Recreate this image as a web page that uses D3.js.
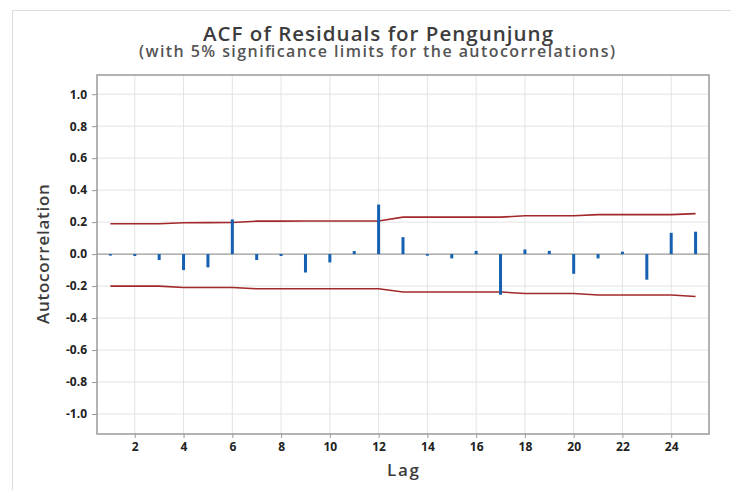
<!DOCTYPE html>
<html>
<head>
<meta charset="utf-8">
<title>ACF of Residuals</title>
<script src="https://cdn.jsdelivr.net/npm/d3@7"></script>
<style>
  body { margin: 0; background: #fff; }
  text { font-family: "Open Sans", "Noto Sans", sans-serif; }
  .tick text { font-size: 12px; font-weight: 700; fill: #222; }
</style>
</head>
<body>
<script>
  // lags and residual autocorrelations
  var lags = d3.range(1, 26);
  var acf = [-0.005, -0.012, -0.037, -0.100, -0.083, 0.217, -0.037, -0.012, -0.115, -0.052,
             0.019, 0.310, 0.106, -0.010, -0.027, 0.020, -0.254, 0.029, 0.020, -0.123,
             -0.027, 0.015, -0.160, 0.133, 0.140];
  // 5% significance limits
  var upperLimit = [0.190, 0.190, 0.190, 0.196, 0.197, 0.198, 0.206, 0.206, 0.207, 0.207,
                    0.207, 0.207, 0.231, 0.231, 0.231, 0.231, 0.231, 0.240, 0.240, 0.240,
                    0.247, 0.247, 0.247, 0.247, 0.253];
  var lowerLimit = [-0.200, -0.200, -0.200, -0.209, -0.209, -0.209, -0.217, -0.217, -0.217, -0.217,
                    -0.217, -0.217, -0.237, -0.237, -0.237, -0.237, -0.237, -0.246, -0.246, -0.246,
                    -0.256, -0.256, -0.256, -0.256, -0.265];
  var xTicks = [2, 4, 6, 8, 10, 12, 14, 16, 18, 20, 22, 24];
  var yTicks = [-1.0, -0.8, -0.6, -0.4, -0.2, 0.0, 0.2, 0.4, 0.6, 0.8, 1.0];

  var w = 731, h = 490;
  var plot = {left: 97, right: 709, top: 75, bottom: 434};

  var svg = d3.select("body").append("svg")
    .attr("width", w)
    .attr("height", h);

  // outer figure frame (only top and left edges show)
  svg.append("rect")
    .attr("x", 12.5).attr("y", 10.5)
    .attr("width", 740).attr("height", 500)
    .attr("fill", "none")
    .attr("stroke", "#dcdcdc");

  var x = d3.scaleLinear().domain([0.45, 25.55]).range([plot.left, plot.right]);
  var y = d3.scaleLinear().domain([-1.125, 1.12]).range([plot.bottom, plot.top]);

  // gridlines
  svg.append("g").selectAll("line.vg")
    .data(xTicks).enter().append("line")
    .attr("x1", function (d) { return x(d); })
    .attr("x2", function (d) { return x(d); })
    .attr("y1", plot.top).attr("y2", plot.bottom)
    .attr("stroke", "#e3e3e3").attr("stroke-width", 1);

  svg.append("g").selectAll("line.hg")
    .data(yTicks.filter(function (d) { return d !== 0; })).enter().append("line")
    .attr("x1", plot.left).attr("x2", plot.right)
    .attr("y1", function (d) { return y(d); })
    .attr("y2", function (d) { return y(d); })
    .attr("stroke", "#e3e3e3").attr("stroke-width", 1);

  // zero reference line
  svg.append("line")
    .attr("x1", plot.left).attr("x2", plot.right)
    .attr("y1", y(0)).attr("y2", y(0))
    .attr("stroke", "#999").attr("stroke-width", 1.2);

  // axes
  var xAxis = d3.axisBottom(x).tickValues(xTicks).tickSize(4).tickPadding(4)
    .tickFormat(d3.format("d"));
  var yAxis = d3.axisLeft(y).tickValues(yTicks).tickSize(5).tickPadding(5)
    .tickFormat(function (d) { return d3.format(".1f")(d).replace("−", "-"); });

  var gx = svg.append("g")
    .attr("transform", "translate(0," + plot.bottom + ")")
    .call(xAxis);
  var gy = svg.append("g")
    .attr("transform", "translate(" + plot.left + ",0)")
    .call(yAxis);
  gx.select(".domain").remove();
  gy.select(".domain").remove();
  svg.selectAll(".tick line").attr("stroke", "#999");

  // significance limit lines
  var limitLine = d3.line()
    .x(function (d, i) { return x(lags[i]); })
    .y(function (d) { return y(d); });

  [upperLimit, lowerLimit].forEach(function (arr) {
    svg.append("path")
      .datum(arr)
      .attr("d", limitLine)
      .attr("fill", "none")
      .attr("stroke", "#a3282b")
      .attr("stroke-width", 1.6);
  });

  // acf spikes
  svg.append("g").selectAll("rect")
    .data(acf).enter().append("rect")
    .attr("x", function (d, i) { return x(lags[i]) - 1.5; })
    .attr("width", 3)
    .attr("y", function (d) { return y(Math.max(d, 0)); })
    .attr("height", function (d) { return Math.max(Math.abs(y(d) - y(0)), 1.5); })
    .attr("fill", "#1560b0");

  // plot frame
  svg.append("rect")
    .attr("x", plot.left).attr("y", plot.top)
    .attr("width", plot.right - plot.left)
    .attr("height", plot.bottom - plot.top)
    .attr("fill", "none")
    .attr("stroke", "#9a9a9a")
    .attr("stroke-width", 1.5);

  // titles (slightly letter-spaced like the original)
  svg.append("text")
    .attr("x", 378).attr("y", 41)
    .attr("text-anchor", "middle")
    .attr("font-size", 20.5).attr("font-weight", 600).attr("fill", "#3c3c3c")
    .attr("textLength", 350).attr("lengthAdjust", "spacing")
    .text("ACF of Residuals for Pengunjung");
  svg.append("text")
    .attr("x", 377).attr("y", 57)
    .attr("text-anchor", "middle")
    .attr("font-size", 16).attr("font-weight", 600).attr("fill", "#555")
    .attr("textLength", 476).attr("lengthAdjust", "spacing")
    .text("(with 5% significance limits for the autocorrelations)");

  svg.append("text")
    .attr("x", (plot.left + plot.right) / 2).attr("y", 476)
    .attr("text-anchor", "middle")
    .attr("font-size", 17).attr("font-weight", 600).attr("fill", "#3c3c3c")
    .attr("textLength", 32).attr("lengthAdjust", "spacing")
    .text("Lag");
  svg.append("text")
    .attr("transform", "translate(49," + y(0) + ") rotate(-90)")
    .attr("text-anchor", "middle")
    .attr("font-size", 17).attr("font-weight", 600).attr("fill", "#3c3c3c")
    .attr("textLength", 140).attr("lengthAdjust", "spacing")
    .text("Autocorrelation");
</script>
</body>
</html>
